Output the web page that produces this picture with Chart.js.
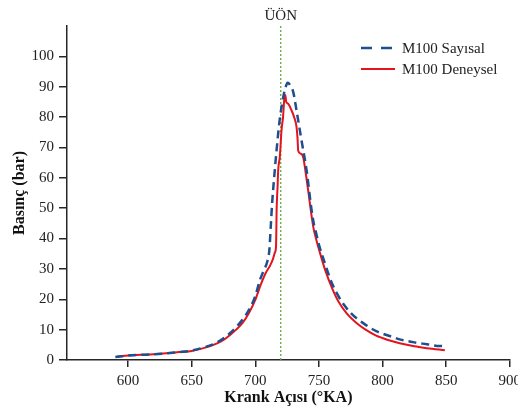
<!DOCTYPE html>
<html><head><meta charset="utf-8">
<script src="https://cdn.jsdelivr.net/npm/chart.js@4/dist/chart.umd.min.js"></script>
<style>
html,body{margin:0;padding:0;background:#fff;overflow:hidden;}
#wrap{width:526px;height:418px;}
</style></head>
<body><div id="wrap"><canvas id="c" width="526" height="418"></canvas></div>
<script>
// ---- data ----
const sayisalAngle = [590,595,600,610,620,630,640,650,660,670,680,690,695,700,703.6,707,709.5,711,712.3,713.3,714.7,716.7,719,722,723.8,725.3,726.5,728,729.8,732.4,736.3,740.3,744.2,746.2,748,750,755,760,765,770,775,780,787,795,805,813.5,825,835,845,848,849];
const sayisalBar   = [1.0,1.2,1.5,1.7,1.9,2.2,2.6,3.1,4.2,5.8,8.8,13.3,16.5,21,26.3,29.8,32.5,36,45,52,59.5,69,78.5,86.6,89.8,91.3,91,90,88.3,82.2,72.4,62.5,49.5,44.5,41.5,38,31.5,25.5,21.3,18,15.5,13.6,11.5,9.5,8,6.8,5.8,5.2,4.6,4.5,3.9];
const deneyselAngle = [591,595,600,610,620,630,640,650,660,670,675,680,685,690,695,700,704,708,711.5,714,715.5,716.3,716.8,717.5,718,719.3,720.6,721.8,722.7,723.6,724.3,725.8,728.5,730.5,732.4,733.2,733.7,735.5,737.6,739.5,741.5,745.5,748,750,755,761,765,771.7,780,787,795,805,813.5,825,835,849];
const deneyselBar   = [1.1,1.3,1.5,1.7,1.9,2.2,2.6,3.0,4.0,5.5,6.6,8.2,10,12.2,15.5,19.8,24.5,28.5,31,33.4,35.5,37.5,50,57,62.5,67,75.6,80,85.5,87.3,85,84.4,82.2,80,76.8,73,69,68,66.9,62,56,44,39.5,36.5,29.5,23,19.5,15.4,12,9.9,8,6.5,5.5,4.5,3.9,3.2];
const seriesNames = ['M100 Sayısal','M100 Deneysel'];
const xTicks = [600,650,700,750,800,850,900];
const yTicks = [0,10,20,30,40,50,60,70,80,90,100];
const markerAngle = 720;
const markerLabel = 'ÜÖN';
const xRange = [552, 900];
const yRange = [0, 110];
const xTitle = 'Krank Açısı (°KA)';
const yTitle = 'Basınç (bar)';

const toPts = (xs, ys) => xs.map((x, i) => ({x: x, y: ys[i]}));
const SERIF = "'Liberation Serif','Times New Roman',serif";
const AX = '#262626';

const legendPlugin = {
  id: 'customLegend',
  afterDraw(chart) {
    const ctx = chart.ctx;
    const rows = [48, 69];
    [0, 1].forEach((di, i) => {
      const ds = chart.data.datasets[di];
      ctx.save();
      ctx.strokeStyle = ds.borderColor;
      ctx.lineWidth = ds.borderWidth;
      ctx.setLineDash(ds.borderDash ? [11, 9] : []);
      ctx.beginPath();
      ctx.moveTo(361, rows[i]);
      ctx.lineTo(395, rows[i]);
      ctx.stroke();
      ctx.setLineDash([]);
      ctx.fillStyle = '#222';
      ctx.font = "15px " + SERIF;
      ctx.textBaseline = 'middle';
      ctx.textAlign = 'left';
      ctx.fillText(ds.label, 402, rows[i] + 1);
      ctx.restore();
    });
  }
};

new Chart(document.getElementById('c'), {
  type: 'scatter',
  data: {
    datasets: [
      {label: seriesNames[0], data: toPts(sayisalAngle, sayisalBar), showLine: true,
       borderColor: '#1f4f8f', borderWidth: 2.5, borderDash: [8, 5], pointRadius: 0,
       cubicInterpolationMode: 'monotone'},
      {label: seriesNames[1], data: toPts(deneyselAngle, deneyselBar), showLine: true,
       borderColor: '#e3141c', borderWidth: 2, pointRadius: 0, cubicInterpolationMode: 'monotone'},
      {label: markerLabel, data: [{x: markerAngle, y: yRange[0]}, {x: markerAngle, y: yRange[1]}],
       showLine: true, borderColor: '#62a83e', borderWidth: 1.3, borderDash: [2, 2], pointRadius: 0}
    ]
  },
  options: {
    responsive: false,
    animation: false,
    layout: {padding: {left: 0, right: 0, top: 0, bottom: 0}},
    plugins: {legend: {display: false}, tooltip: {enabled: false}},
    scales: {
      x: {
        type: 'linear', position: 'bottom', min: xRange[0], max: xRange[1],
        afterBuildTicks: s => { s.ticks = xTicks.map(v => ({value: v})); },
        afterFit: s => { s.height = 58; },
        grid: {display: true, drawOnChartArea: false, drawTicks: true, tickLength: 7, color: AX, lineWidth: 1.5},
        border: {display: true, color: AX, width: 1.5},
        ticks: {color: '#222', font: {family: SERIF, size: 15}, padding: 5, maxRotation: 0},
        title: {display: true, text: xTitle, color: '#111', font: {family: SERIF, size: 16, weight: 'bold'}, padding: {top: 0, bottom: 11}}
      },
      x2: {
        type: 'linear', position: 'top', min: xRange[0], max: xRange[1],
        afterBuildTicks: s => { s.ticks = [{value: markerAngle}]; },
        afterFit: s => { s.height = 26; },
        grid: {display: false, drawTicks: false}, border: {display: false},
        ticks: {color: '#222', font: {family: SERIF, size: 15}, padding: 1, callback: () => markerLabel}
      },
      y: {
        type: 'linear', min: yRange[0], max: yRange[1],
        afterBuildTicks: s => { s.ticks = yTicks.map(v => ({value: v})); },
        afterFit: s => { s.width = 67; },
        grid: {display: true, drawOnChartArea: false, drawTicks: true, tickLength: 8, color: AX, lineWidth: 1.5},
        border: {display: true, color: AX, width: 1.5},
        ticks: {color: '#222', font: {family: SERIF, size: 15}, padding: 5},
        title: {display: true, text: yTitle, color: '#111', font: {family: SERIF, size: 16, weight: 'bold'}, padding: {top: 10, bottom: 0}}
      }
    }
  },
  plugins: [legendPlugin]
});
</script></body></html>
